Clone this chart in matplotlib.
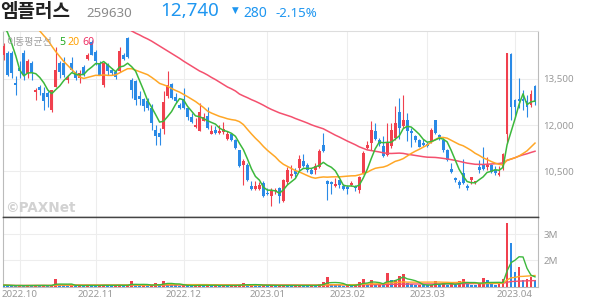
import numpy as np
import pandas as pd
import matplotlib
matplotlib.use('Agg')
import matplotlib.pyplot as plt

# daily candles (KRW), oldest first
opens = [14290, 14330, 14330, 13370, 13860, 14330, 13690, 14010, 13070, 13250,
         13040, 13040, 12490, 13250, 14010, 14010, 13470, 14010, 13740, 13520,
         13880, 14160, 14700, 14380, 14010, 13320, 13990, 13790, 13740, 13750,
         14290, 14830, 13480, 13430, 12940, 12850, 12800, 12560, 11860, 11750,
         11890, 12940, 13340, 12900, 12670, 12830, 12560, 12260, 11930, 11820,
         12150, 12290, 11720, 11860, 11750, 11770, 11550, 11720, 11530, 11210,
         10720, 10720, 10020, 9940, 9940, 10130, 9800, 9690, 9860, 9950,
         9530, 10150, 10340, 10500, 10610, 10850, 10720, 10560, 10530, 10630,
         11370, 10180, 10160, 10020, 10230, 10020, 10000, 10050, 10020, 9910,
         10450, 11260, 11420, 11800, 11530, 11320, 11040, 11320, 11590, 12430,
         11960, 12180, 11820, 11650, 11520, 11430, 11390, 11470, 12170, 11680,
         11520, 11200, 10580, 10300, 10170, 10440, 10030, 10220, 10150, 10630,
         10740, 10630, 10700, 10550, 10380, 10600, 11700, 14310, 12820, 12840,
         12850, 12770, 12660, 13280]
highs = [14670, 14400, 14400, 13590, 14070, 14440, 14140, 14070, 13210, 13320,
         13250, 13100, 13150, 14550, 14070, 14230, 13630, 14230, 13790, 13790,
         13970, 14330, 14770, 14440, 14070, 14010, 14010, 13860, 13790, 14550,
         14330, 14850, 13530, 13470, 13100, 12880, 12880, 12690, 12000, 11910,
         13100, 13750, 13370, 13050, 12720, 13210, 12580, 12400, 12240, 12720,
         12400, 12580, 12000, 11970, 12020, 12100, 11800, 11750, 11550, 11210,
         10910, 10780, 10200, 10180, 10160, 10180, 9960, 9960, 9960, 9990,
         10260, 10650, 10700, 10610, 11020, 11070, 10770, 10610, 10770, 11240,
         11750, 10230, 10200, 10290, 10230, 10090, 10050, 10180, 10070, 10340,
         11150, 11480, 12150, 12070, 11590, 11640, 12070, 12070, 12610, 12880,
         12990, 12400, 11900, 11680, 11540, 11540, 11470, 11900, 12170, 11710,
         11570, 11220, 10760, 10330, 10220, 10890, 10080, 10330, 10200, 10870,
         11280, 10980, 10740, 10660, 10660, 11090, 14350, 14350, 12850, 13520,
         13140, 12980, 13140, 13310]
lows = [14130, 13590, 13530, 12990, 13530, 13470, 13520, 13470, 12820, 12990,
        12490, 12600, 12440, 13250, 13530, 13580, 13360, 13740, 13470, 13360,
        13590, 14120, 14270, 13970, 13640, 13250, 13640, 13640, 13510, 13730,
        14120, 14180, 12880, 12650, 12650, 12470, 12500, 11860, 11350, 11350,
        11720, 12880, 12860, 12720, 12510, 12510, 12180, 12070, 11910, 11820,
        12130, 11890, 11700, 11720, 11720, 11720, 11530, 11480, 11240, 10630,
        10050, 10200, 9910, 9910, 9910, 9660, 9720, 9370, 9750, 9480,
        9500, 10100, 10290, 10320, 10560, 10630, 10480, 10400, 10400, 10610,
        11130, 9580, 9770, 10000, 9960, 9910, 9750, 10020, 9850, 9800,
        10400, 11240, 11210, 11530, 11340, 10970, 10990, 11260, 11530, 11560,
        11910, 11500, 11280, 11470, 11280, 11320, 11280, 11410, 11710, 11520,
        11140, 10850, 10460, 10170, 9950, 10090, 9880, 10090, 10090, 10440,
        10550, 10550, 10460, 10380, 10350, 10550, 11420, 12180, 12250, 12550,
        12490, 12260, 12600, 12660]
closes = [14560, 13630, 13700, 13300, 13750, 13630, 14100, 13740, 13140, 13140,
          12770, 12930, 13140, 13790, 13740, 13630, 13580, 13790, 13520, 13690,
          13640, 14290, 14290, 14100, 13640, 14010, 13770, 13710, 13560, 14400,
          14160, 14230, 13150, 12830, 12850, 12610, 12560, 12070, 11640, 11620,
          12750, 13320, 12880, 12800, 12560, 12560, 12260, 12110, 12020, 12430,
          12260, 11910, 11820, 11750, 11800, 11880, 11720, 11530, 11260, 10670,
          10830, 10230, 9930, 10020, 10070, 9690, 9750, 9910, 9910, 9700,
          10230, 10550, 10430, 10430, 10900, 10670, 10560, 10420, 10670, 11170,
          11150, 10090, 10090, 10090, 10050, 9940, 9940, 10120, 9960, 10310,
          11100, 11350, 11860, 11560, 11390, 10990, 11420, 11860, 12070, 11910,
          12180, 11800, 11740, 11520, 11300, 11360, 11320, 11850, 11760, 11610,
          11200, 10870, 10490, 10220, 10060, 10110, 9970, 10310, 10200, 10550,
          10570, 10700, 10490, 10460, 10460, 11050, 14350, 12580, 12600, 12770,
          12790, 12600, 13020, 12740]
# volume in millions of shares
volumes = [1.05, 1.04, 1.03, 1.02, 1.04, 1.03, 1.05, 1.03, 1.04, 1.03,
           1.05, 1.03, 1.04, 1.27, 1.06, 1.04, 1.03, 1.05, 1.03, 1.04,
           1.03, 1.05, 1.04, 1.03, 1.04, 1.06, 1.04, 1.03, 1.04, 1.06,
           1.04, 1.05, 1.19, 1.06, 1.04, 1.05, 1.03, 1.06, 1.12, 1.05,
           1.19, 1.15, 1.06, 1.04, 1.03, 1.05, 1.04, 1.03, 1.04, 1.06,
           1.04, 1.05, 1.03, 1.04, 1.03, 1.04, 1.03, 1.04, 1.05, 1.06,
           1.12, 1.05, 1.08, 1.04, 1.03, 1.05, 1.03, 1.04, 1.03, 1.04,
           1.05, 1.04, 1.03, 1.04, 1.05, 1.04, 1.03, 1.04, 1.03, 1.08,
           1.17, 1.35, 1.10, 1.05, 1.04, 1.03, 1.04, 1.03, 1.08, 1.17,
           1.27, 1.10, 1.23, 1.06, 1.08, 1.05, 1.51, 1.23, 1.25, 1.38,
           1.46, 1.13, 1.08, 1.05, 1.06, 1.05, 1.04, 1.06, 1.19, 1.07,
           1.13, 1.06, 1.08, 1.06, 1.19, 1.29, 1.13, 1.07, 1.06, 1.08,
           1.31, 1.23, 1.08, 1.07, 1.09, 1.27, 3.44, 2.67, 1.55, 1.74,
           1.23, 1.27, 1.36, 1.23]

# moving-average values before enough candles exist
ma5_head = [15250, 14990, 14640, 14250]
ma20_head = [np.nan] * 7 + [15330, 15190, 15060, 14910, 14770, 14570, 14390,
                            14230, 14070, 13940, 13810, 13680]
ma60_head = [np.nan] * 30 + [15220, 15140, 15060, 14990, 14930, 14860, 14800,
                             14730, 14650, 14570, 14490, 14410, 14330, 14250,
                             14170, 14080, 14000, 13920, 13840, 13760, 13700,
                             13630, 13550, 13480, 13400, 13320, 13240, 13180,
                             13110]

# trading days per month (first entry: end of Sept 2022)
month_labels = ['2022.10', '2022.11', '2022.12', '2023.01', '2023.02', '2023.03', '2023.04']
month_days = [4, 19, 22, 21, 20, 20, 22, 6]

price_ticks = [10500, 12000, 13500]
vol_ticks = [2, 3]

RED = '#f0404e'
BLUE = '#2a8ae6'
GREEN = '#3cb83c'
ORANGE = '#ffa726'
PINK = '#f4506e'
GRID = '#ededed'
LABEL = '#999999'

df = pd.DataFrame({'o': opens, 'h': highs, 'l': lows, 'c': closes, 'v': volumes})
x = np.arange(len(df))

ma5 = df['c'].rolling(5).mean().values
ma5[:len(ma5_head)] = ma5_head
ma20 = df['c'].rolling(20).mean().values
ma20[:len(ma20_head)] = ma20_head
ma60 = df['c'].rolling(60).mean().values
ma60[:len(ma60_head)] = ma60_head

up = df['c'] >= df['o']
cols = np.where(up, RED, BLUE)
vol_up = df['v'].diff() >= 0
vcols = np.where(vol_up, RED, BLUE)

fig = plt.figure(figsize=(5.94, 3.04), dpi=100)
ax = fig.add_axes([2.5 / 594, 87 / 304, 535.5 / 594, 186.3 / 304])
axv = fig.add_axes([2.5 / 594, 17.3 / 304, 535.5 / 594, 69.7 / 304])

tick_pos = np.cumsum(month_days)[:-1]

for a in (ax, axv):
    a.set_axisbelow(True)
    a.set_xlim(-0.33, 133.75)
    a.set_xticks(tick_pos)
    a.grid(True, color=GRID, lw=0.8)
    a.tick_params(length=0, colors=LABEL, labelsize=7)
    for s in ('left', 'right'):
        a.spines[s].set_color('#bbbbbb')
        a.spines[s].set_linewidth(0.8)
    a.yaxis.tick_right()

# price panel
body = np.maximum((df['c'] - df['o']).abs(), 15)
ax.vlines(x, df['l'], df['h'], colors=cols, lw=0.8, zorder=2)
ax.bar(x, body, bottom=np.minimum(df['o'], df['c']), width=0.72, color=cols, zorder=3)
ax.plot(x, ma60, color=PINK, lw=1.1, zorder=4)
ax.plot(x, ma20, color=ORANGE, lw=1.1, zorder=4)
ax.plot(x, ma5, color=GREEN, lw=1.1, zorder=4)
ax.set_ylim(9019, 15068)
ax.set_yticks(price_ticks)
ax.set_yticklabels([f'{p:,}' for p in price_ticks], family='Noto Sans')
ax.tick_params(axis='y', pad=4)
ax.set_xticklabels([])
ax.spines['top'].set_color('#dddddd')
ax.spines['bottom'].set_color('#444444')
ax.spines['bottom'].set_linewidth(1.0)

# volume panel
axv.bar(x, df['v'] * 1e6, width=0.72, color=vcols, zorder=3)
for n, c in ((60, PINK), (20, ORANGE), (5, GREEN)):
    axv.plot(x, df['v'].rolling(n, min_periods=1).mean() * 1e6, color=c, lw=1.0, zorder=4)
axv.set_ylim(0.99e6, 3.654e6)
axv.set_yticks([t * 1e6 for t in vol_ticks])
axv.set_yticklabels([f'{t}M' for t in vol_ticks], family='Noto Sans')
axv.tick_params(axis='y', pad=4)
axv.set_xticklabels(month_labels, family='Noto Sans')
axv.tick_params(axis='x', pad=2.5)
axv.spines['top'].set_color('#444444')
axv.spines['top'].set_linewidth(1.0)
axv.spines['bottom'].set_color('#bbbbbb')

# header
H = 304.0
fig.text(0.5 / 594, 1 - 17 / H, '엠플러스', family='Noto Sans CJK KR', fontsize=13.7,
         fontweight='bold', color='#222222', va='baseline')
fig.text(86 / 594, 1 - 16.7 / H, '259630', family='Noto Sans', fontsize=9.6,
         color='#8a8a8a', va='baseline')
fig.text(160 / 594, 1 - 16 / H, '12,740', family='Noto Sans', fontsize=13.5,
         color='#1e96f0', va='baseline')
fig.text(231.5 / 594, 1 - 10.8 / H, '▼', family='DejaVu Sans', fontsize=6.3,
         color='#1e96f0', va='center')
fig.text(243 / 594, 1 - 16.7 / H, '280', family='Noto Sans', fontsize=10,
         color='#1e96f0', va='baseline')
fig.text(275 / 594, 1 - 16.7 / H, '-2.15%', family='Noto Sans', fontsize=9.6,
         color='#1e96f0', va='baseline')

# MA legend
fig.text(6.5 / 594, 1 - 45.5 / H, '이동평균선', family='Noto Sans CJK KR', fontsize=7.2,
         color='#a0a0a0', va='baseline')
fig.text(59 / 594, 1 - 45 / H, '5', family='Noto Sans', fontsize=7.6,
         color='#22aa22', va='baseline')
fig.text(67.5 / 594, 1 - 45 / H, '20', family='Noto Sans', fontsize=7.6,
         color='#ffa000', va='baseline')
fig.text(82.5 / 594, 1 - 45 / H, '60', family='Noto Sans', fontsize=7.6,
         color='#ee3366', va='baseline')

# watermark
fig.text(5 / 594, 1 - 211.5 / H, '©PAXNet', family='DejaVu Sans', fontsize=9.8,
         fontweight='bold', color='#d2d2d2', va='baseline')

fig.savefig('out.png', dpi=100)
